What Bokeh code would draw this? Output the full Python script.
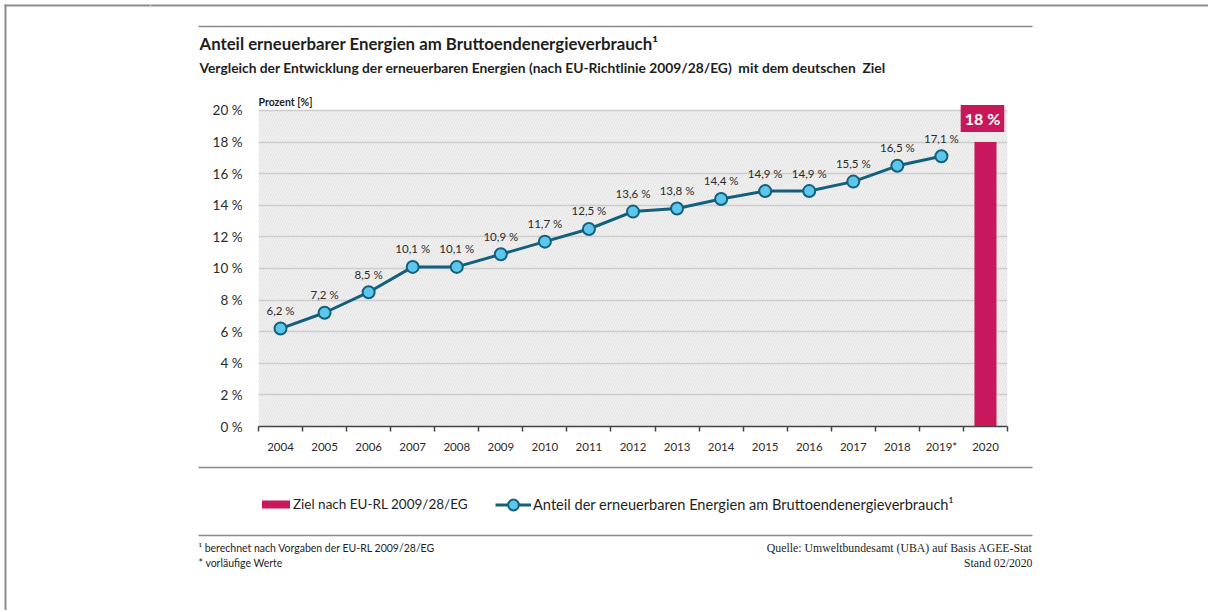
from bokeh.plotting import figure
from bokeh.models import Range1d, FixedTicker, Legend, LegendItem, BoxAnnotation, Label
from bokeh.layouts import column, row
from bokeh.core.properties import value
from bokeh.embed import file_html
from bokeh.resources import INLINE

# ---------------- data ----------------
years = [2004, 2005, 2006, 2007, 2008, 2009, 2010, 2011, 2012, 2013, 2014, 2015, 2016, 2017, 2018, 2019]
shares = [6.2, 7.2, 8.5, 10.1, 10.1, 10.9, 11.7, 12.5, 13.6, 13.8, 14.4, 14.9, 14.9, 15.5, 16.5, 17.1]
target_year = [2020]
target = [18]
x_tick_labels = ["2004", "2005", "2006", "2007", "2008", "2009", "2010", "2011", "2012",
                 "2013", "2014", "2015", "2016", "2017", "2018", "2019*", "2020"]
y_ticks = [0, 2, 4, 6, 8, 10, 12, 14, 16, 18, 20]
y_tick_labels = ["0 %", "2 %", "4 %", "6 %", "8 %", "10 %", "12 %", "14 %", "16 %", "18 %", "20 %"]
share_labels = [f"{v:.1f} %".replace(".", ",") for v in shares]
target_labels = [f"{v} %" for v in target]

title_text = "Anteil erneuerbarer Energien am Bruttoendenergieverbrauch\u00b9"
subtitle_text = ("Vergleich der Entwicklung der erneuerbaren Energien (nach EU-Richtlinie 2009/28/EG)"
                 "\u00a0 mit dem deutschen\u00a0 Ziel")
legend_bar = "Ziel nach EU-RL 2009/28/EG"
legend_line = "Anteil der erneuerbaren Energien am Bruttoendenergieverbrauch\u00b9"
foot_left = ["\u00b9 berechnet nach Vorgaben der EU-RL 2009/28/EG", "* vorl\u00e4ufige Werte"]
foot_right = ["Quelle: Umweltbundesamt (UBA) auf Basis AGEE-Stat", "Stand 02/2020"]

# ---------------- styles ----------------
SW = 150            # left strip width
W = 1058            # width of the main column
X0, X1 = SW, SW + W
H_TOP, H_MAIN, H_BOT = 92, 363, 155
H_ALL = H_TOP + H_MAIN + H_BOT
SANS = value("Lato")
CRIMSON = "#c9175b"
TEAL = "#13607c"
LIGHTBLUE = "#5cc6ec"
TXT = "#2b2b2b"
RULE = "#8a8a8a"
FRAME = "#8c8c8c"


def no_align(f):
    try:
        f.frame_align = False
    except Exception:
        pass


def blank(width, height, x0, x1, y_top, y_bottom):
    f = figure(width=width, height=height, x_range=Range1d(x0, x1),
               y_range=Range1d(y_bottom, y_top), output_backend="svg",
               toolbar_location=None, min_border=0,
               x_axis_location=None, y_axis_location=None)
    f.grid.visible = False
    f.outline_line_color = None
    f.background_fill_color = "white"
    f.border_fill_color = "white"
    no_align(f)
    return f


# ---------------- left strip (page frame) ----------------
strip = blank(SW, H_ALL, 0, SW, 0, H_ALL)
strip.segment(x0=[5, 4], y0=[4, 5], x1=[5, SW + 5], y1=[H_ALL + 5, 5],
              line_color=FRAME, line_width=2)

# ---------------- header ----------------
top = blank(W, H_TOP, X0, X1, 0, H_TOP)
top.segment(x0=[X0 - 5], y0=[5], x1=[X1 + 5], y1=[5], line_color=FRAME, line_width=2)
top.segment(x0=[198], y0=[26], x1=[1032], y1=[26], line_color=RULE, line_width=1.5)
top.text(x=[199], y=[43], text=[title_text], text_font=SANS, text_font_style="bold",
         text_font_size="16.8px", text_baseline="middle", text_color="#1e1e1e")
top.text(x=[199], y=[67], text=[subtitle_text], text_font=SANS, text_font_style="bold",
         text_font_size="13.8px", text_baseline="middle", text_color="#1e1e1e")

# ---------------- main chart ----------------
p = figure(width=W, height=H_MAIN, x_range=Range1d(2003.5, 2020.5), y_range=Range1d(0, 20.886),
           output_backend="svg", toolbar_location=None,
           min_border_left=258 - X0, min_border_right=X1 - 1007, min_border_top=4, min_border_bottom=29)
p.outline_line_color = None
p.background_fill_color = "white"
p.border_fill_color = "white"
no_align(p)

bg = BoxAnnotation(bottom=0, top=20, fill_color="#f1f1f1", fill_alpha=1.0,
                   hatch_pattern="/", hatch_color="#dedede", hatch_scale=5,
                   hatch_weight=0.8, line_color=None, level="image")
p.add_layout(bg)

p.xgrid.visible = False
p.ygrid.ticker = FixedTicker(ticks=y_ticks)
p.ygrid.grid_line_color = "#cdcdcd"
p.ygrid.grid_line_width = 1.5

# x axis
p.xaxis.ticker = FixedTicker(ticks=years + target_year,
                             minor_ticks=[y - 0.5 for y in years + target_year] + [target_year[0] + 0.5])
p.xaxis.major_label_overrides = {y: lab for y, lab in zip(years + target_year, x_tick_labels)}
p.xaxis.major_tick_out = 0
p.xaxis.major_tick_in = 0
p.xaxis.minor_tick_out = 5
p.xaxis.minor_tick_in = 0
p.xaxis.minor_tick_line_color = "#444444"
p.xaxis.minor_tick_line_width = 1.5
p.xaxis.axis_line_color = "#444444"
p.xaxis.axis_line_width = 1.5
p.xaxis.major_label_standoff = 8
p.xaxis.major_label_text_font = "Lato"
p.xaxis.major_label_text_font_size = "11.5px"
p.xaxis.major_label_text_color = TXT

# y axis
p.yaxis.ticker = FixedTicker(ticks=y_ticks)
p.yaxis.major_label_overrides = {t: lab for t, lab in zip(y_ticks, y_tick_labels)}
p.yaxis.major_tick_out = 0
p.yaxis.major_tick_in = 0
p.yaxis.minor_tick_out = 0
p.yaxis.minor_tick_in = 0
p.yaxis.axis_line_color = None
p.yaxis.major_label_standoff = 16
p.yaxis.major_label_text_font = "Lato"
p.yaxis.major_label_text_font_size = "13.5px"
p.yaxis.major_label_text_color = TXT

# unit label
p.text(x=[2003.5], y=[20], text=["Prozent [%]"], y_offset=-8, text_font=SANS,
       text_font_style="bold", text_font_size="10.5px", text_baseline="middle",
       text_align="left", text_color="#1e1e1e")

# target bar
p.vbar(x=target_year, top=target, bottom=0, width=0.5, fill_color=CRIMSON, line_color=None)
p.add_layout(Label(x=target_year[0], y=target[0], text=target_labels[0], x_offset=-3, y_offset=10,
                   text_align="center", text_baseline="bottom", text_color="white",
                   text_font="Lato", text_font_style="bold", text_font_size="16px",
                   background_fill_color=CRIMSON, padding=4))

# series
p.line(years, shares, line_color=TEAL, line_width=3)
p.scatter(years, shares, size=12, fill_color=LIGHTBLUE, line_color=TEAL, line_width=2)
p.text(x=years, y=shares, text=share_labels, y_offset=-18, text_align="center",
       text_baseline="middle", text_font=SANS, text_font_size="11.5px", text_color=TXT)

# ---------------- footer ----------------
bot = blank(W, H_BOT, X0, X1, 455, 455 + H_BOT)
bot.segment(x0=[198, 198], y0=[467, 535], x1=[1032, 1032], y1=[467, 535],
            line_color=RULE, line_width=1.5)
r_bar = bot.vbar(x=[-1000], top=[0], width=1, fill_color=CRIMSON, line_color=None)
r_line = bot.line(x=[-1000, -999], y=[0, 0], line_color=TEAL, line_width=3)
r_pt = bot.scatter(x=[-1000], y=[0], size=10, fill_color=LIGHTBLUE, line_color=TEAL, line_width=2)

legend_style = dict(orientation="horizontal", padding=0, margin=0, border_line_color=None,
                    background_fill_alpha=0, label_text_font="Lato", label_height=14,
                    label_text_color="#1e1e1e")
leg1 = Legend(items=[LegendItem(label=legend_bar, renderers=[r_bar])],
              location=(258 - X0, (455 + H_BOT) - 512),
              glyph_width=35, glyph_height=10, label_standoff=0,
              label_text_font_size="13.5px", **legend_style)
leg2 = Legend(items=[LegendItem(label=legend_line, renderers=[r_line, r_pt])],
              location=(495 - X0, (455 + H_BOT) - 518),
              glyph_width=36, glyph_height=27, label_standoff=2,
              label_text_font_size="14.6px", **legend_style)
bot.add_layout(leg1)
bot.add_layout(leg2)

bot.text(x=[198, 198], y=[547, 562], text=foot_left, text_font=SANS,
         text_font_size="10.5px", text_baseline="middle", text_align="left", text_color="#1e1e1e")
bot.text(x=[1032, 1032], y=[547, 562], text=foot_right, text_font=value("Liberation Serif"),
         text_font_size="11.8px", text_baseline="middle", text_align="right", text_color="#1e1e1e")

layout = row(strip, column(top, p, bot, spacing=0), spacing=0)
open("out.html", "w").write(file_html(layout, INLINE))
